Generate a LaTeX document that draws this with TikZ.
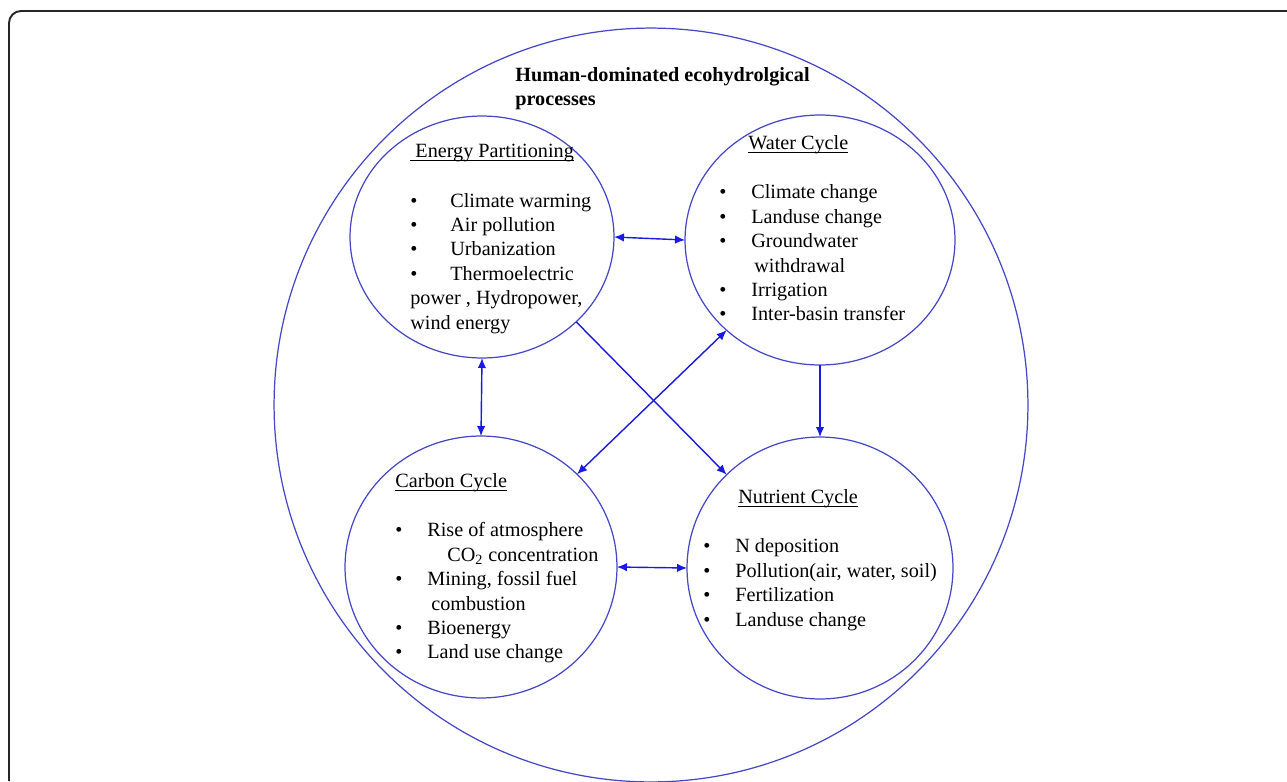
\documentclass[tikz,border=0pt]{standalone}
\usepackage{fontspec}
\setmainfont{Liberation Serif}
\usetikzlibrary{shapes.geometric,arrows.meta}
\definecolor{ringblue}{RGB}{70,70,200}
\definecolor{arrowblue}{RGB}{25,25,225}
\tikzset{
  cyc/.style={draw=ringblue, line width=0.7pt, ellipse, inner sep=0pt, outer sep=0pt},
  txt/.style={align=left, inner sep=0pt, anchor=north west, font=\fontsize{11.5}{13.9}\selectfont},
  link/.style={arrowblue, line width=0.8pt, -{Latex[length=2mm,width=1.7mm]}},
  both/.style={link, {Latex[length=2mm,width=1.7mm]}-{Latex[length=2mm,width=1.7mm]}}
}
\newcommand{\bul}[2][0.64cm]{\makebox[#1][l]{\textbullet}#2}
\newcommand{\uhead}[1]{\setbox0\hbox{#1}\rlap{\rule[-1.8pt]{\wd0}{0.5pt}}\box0}

\begin{document}
\begin{tikzpicture}[x=0.02cm, y=-0.02cm]
	\useasboundingbox (0,0) rectangle (1287,781);
	\draw[line width=1.1pt, rounded corners=0.24cm, black!85] (1287,11) -- (9,11) -- (9,781);
	
	\node[cyc, minimum width=15.08cm, minimum height=15.08cm] (eco) at (651,405) {};
	\node[txt, font=\fontsize{11.5}{13.9}\selectfont\bfseries] (title) at (515,67) {Human-dominated ecohydrolgical\\processes};
	
	\node[cyc, minimum width=5.28cm, minimum height=4.84cm] (energy) at (482,237) {};
	\node[cyc, minimum width=5.4cm, minimum height=5cm] (water) at (820,240) {};
	\node[cyc, minimum width=5.44cm, minimum height=5.24cm] (carbon) at (481,567) {};
	\node[cyc, minimum width=5.32cm, minimum height=5.24cm] (nutrient) at (820,568) {};
	
	\node[txt] (energytxt) at (410,144) {\uhead{\ Energy Partitioning}\\[0.5cm]
		\bul[0.8cm]{Climate warming}\\ \bul[0.8cm]{Air pollution}\\ \bul[0.8cm]{Urbanization}\\
		\bul[0.8cm]{Thermoelectric}\\ power , Hydropower,\\ wind energy};
	\node[txt] (watertxt) at (719,135) {\hspace*{0.58cm}\uhead{Water Cycle}\\[0.5cm]
		\bul{Climate change}\\ \bul{Landuse change}\\ \bul{Groundwater}\\ \hspace*{0.7cm}withdrawal\\
		\bul{Irrigation}\\ \bul{Inter-basin transfer}};
	\node[txt] (carbontxt) at (395,473) {\uhead{Carbon Cycle}\\[0.5cm]
		\bul{Rise of atmosphere}\\ \hspace*{1.04cm}CO\textsubscript{2} concentration\\ \bul{Mining, fossil fuel}\\
		\hspace*{0.72cm}combustion\\ \bul{Bioenergy}\\ \bul{Land use change}};
	\node[txt] (nutrienttxt) at (703,489) {\hspace*{0.7cm}\uhead{Nutrient Cycle}\\[0.5cm]
		\bul{N deposition}\\ \bul{Pollution(air, water, soil)}\\ \bul{Fertilization}\\ \bul{Landuse change}};
	
	\draw[both] (energy.east) -- (water.west);
	\draw[both] (energy.south) -- (carbon.north);
	\draw[link] (water.south) -- (nutrient.north);
	\draw[both] (carbon.east) -- (nutrient.west);
	\draw[link] (energy.-42) -- (nutrient.135);
	\draw[both] (carbon.44) -- (water.224);
\end{tikzpicture}
\end{document}
